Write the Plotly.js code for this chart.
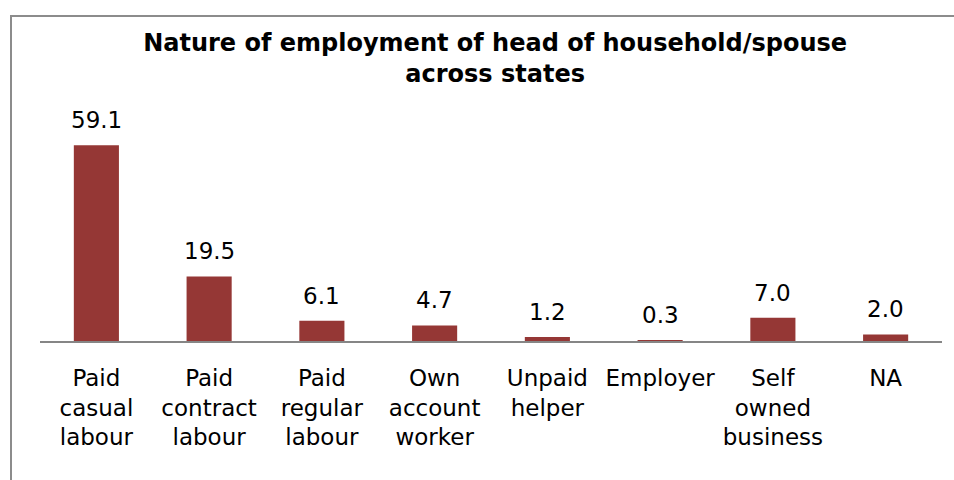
<!DOCTYPE html>
<html>
<head>
<meta charset="utf-8">
<script src="https://cdn.plot.ly/plotly-3.0.1.min.js"></script>
<style>
  html, body { margin: 0; padding: 0; background: #fff; }
  #wrap { position: relative; width: 954px; height: 480px; overflow: hidden; }
  #frame { position: absolute; left: 10px; top: 15px; width: 960px; height: 480px;
           border-left: 2px solid #8c8c8c; border-top: 2px solid #8c8c8c; box-sizing: border-box; pointer-events: none; }
  #chart { position: absolute; left: 0; top: 0; width: 954px; height: 480px; }
</style>
</head>
<body>
<div id="wrap">
  <div id="chart"></div>
  <div id="frame"></div>
</div>
<script>
const categories = ["Paid casual labour", "Paid contract labour", "Paid regular labour", "Own account worker", "Unpaid helper", "Employer", "Self owned business", "NA"];
const tickLabels = ["Paid<br>casual<br>labour", "Paid<br>contract<br>labour", "Paid<br>regular<br>labour", "Own<br>account<br>worker", "Unpaid<br>helper", "Employer", "Self<br>owned<br>business", "NA"];
const values = [59.1, 19.5, 6.1, 4.7, 1.2, 0.3, 7.0, 2.0];
const valueLabels = values.map(v => v.toFixed(1));

const FONT = "DejaVu Sans, Verdana, sans-serif";

const trace = {
  type: "bar",
  x: categories,
  y: values,
  marker: { color: "#953735" },
  hoverinfo: "none"
};

const annotations = categories.map((c, i) => ({
  x: c, y: values[i], xref: "x", yref: "y",
  text: valueLabels[i], showarrow: false,
  yanchor: "bottom", yshift: 10,
  font: { family: FONT, size: 23, color: "#000" }
}));

const layout = {
  width: 954, height: 480,
  margin: { l: 40, r: 12, t: 100, b: 139 },
  paper_bgcolor: "#fff", plot_bgcolor: "#fff",
  bargap: 0.6,
  showlegend: false,
  title: {
    text: "<b>Nature of employment of head of household/spouse<br>across states</b>",
    font: { family: FONT, size: 24, color: "#000" },
    x: 0.519, xanchor: "center", xref: "container",
    y: 0.894, yanchor: "top", yref: "container"
  },
  xaxis: {
    type: "category",
    tickvals: categories, ticktext: tickLabels,
    showgrid: false, zeroline: false,
    showline: true, linecolor: "#868686", linewidth: 2,
    ticks: "", ticklabelstandoff: 15,
    tickfont: { family: FONT, size: 23, color: "#000" },
    tickangle: 0
  },
  yaxis: {
    range: [0, 72.8], visible: false, fixedrange: true
  },
  annotations: annotations
};

Plotly.newPlot("chart", [trace], layout, { staticPlot: true, displayModeBar: false });
</script>
</body>
</html>
